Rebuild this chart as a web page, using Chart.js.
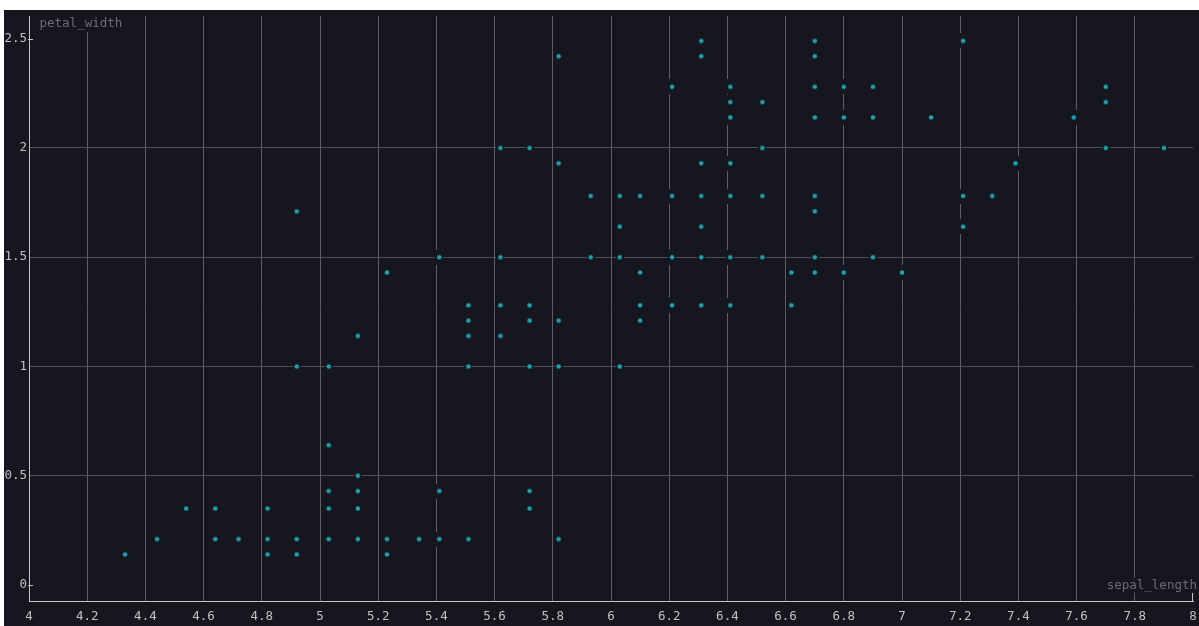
<!DOCTYPE html>
<html>
<head>
<meta charset="utf-8">
<script src="https://cdn.jsdelivr.net/npm/chart.js@4.4.1/dist/chart.umd.min.js"></script>
<style>
  html, body { margin: 0; padding: 0; background: #ffffff; }
  #panel { position: absolute; left: 4px; top: 10px; width: 1195px; height: 616px; background: #15161e; }
  canvas { display: block; }
</style>
</head>
<body>
<div id="panel"><canvas id="plot" width="1195" height="616"></canvas></div>
<script>
// Iris measurements: sepal length (x) against petal width (y), one entry per distinct pair.
const sepalLength = [
  4.33,
  4.44,
  4.54,
  4.64, 4.64,
  4.72,
  4.82, 4.82, 4.82,
  4.92, 4.92, 4.92, 4.92,
  5.03, 5.03, 5.03, 5.03, 5.03,
  5.13, 5.13, 5.13, 5.13, 5.13,
  5.23, 5.23, 5.23,
  5.34,
  5.41, 5.41, 5.41,
  5.51, 5.51, 5.51, 5.51, 5.51,
  5.62, 5.62, 5.62, 5.62,
  5.72, 5.72, 5.72, 5.72, 5.72, 5.72,
  5.82, 5.82, 5.82, 5.82, 5.82,
  5.93, 5.93,
  6.03, 6.03, 6.03, 6.03,
  6.10, 6.10, 6.10, 6.10,
  6.21, 6.21, 6.21, 6.21,
  6.31, 6.31, 6.31, 6.31, 6.31, 6.31, 6.31,
  6.41, 6.41, 6.41, 6.41, 6.41, 6.41, 6.41,
  6.52, 6.52, 6.52, 6.52,
  6.62, 6.62,
  6.70, 6.70, 6.70, 6.70, 6.70, 6.70, 6.70, 6.70,
  6.80, 6.80, 6.80,
  6.90, 6.90, 6.90,
  7.00,
  7.10,
  7.21, 7.21, 7.21,
  7.31,
  7.39,
  7.59,
  7.70, 7.70, 7.70,
  7.90
];
const petalWidth = [
  0.14,
  0.21,
  0.35,
  0.21, 0.35,
  0.21,
  0.14, 0.21, 0.35,
  0.14, 0.21, 1.00, 1.71,
  0.21, 0.35, 0.43, 0.64, 1.00,
  0.21, 0.35, 0.43, 0.50, 1.14,
  0.14, 0.21, 1.43,
  0.21,
  0.21, 0.43, 1.50,
  0.21, 1.00, 1.14, 1.21, 1.28,
  1.14, 1.28, 1.50, 2.00,
  0.35, 0.43, 1.00, 1.21, 1.28, 2.00,
  0.21, 1.00, 1.21, 1.93, 2.42,
  1.50, 1.78,
  1.00, 1.50, 1.64, 1.78,
  1.21, 1.28, 1.43, 1.78,
  1.28, 1.50, 1.78, 2.28,
  1.28, 1.50, 1.64, 1.78, 1.93, 2.42, 2.49,
  1.28, 1.50, 1.78, 1.93, 2.14, 2.21, 2.28,
  1.50, 1.78, 2.00, 2.21,
  1.28, 1.43,
  1.43, 1.50, 1.71, 1.78, 2.14, 2.28, 2.42, 2.49,
  1.43, 2.14, 2.28,
  1.50, 2.14, 2.28,
  1.43,
  2.14,
  1.64, 1.78, 2.49,
  1.78,
  1.93,
  2.14,
  2.00, 2.21, 2.28,
  2.00
];
const xTickValues = [4, 4.2, 4.4, 4.6, 4.8, 5, 5.2, 5.4, 5.6, 5.8, 6, 6.2, 6.4, 6.6, 6.8, 7, 7.2, 7.4, 7.6, 7.8, 8];
const yTickValues = [0, 0.5, 1, 1.5, 2, 2.5];
const xTitle = 'sepal_length';
const yTitle = 'petal_width';

const BG = '#15161e';
const DOT = '#1fa2b4';
const GRID_X = '#5e5d66';
const GRID_Y = '#4f4e58';
const AXIS = '#c4c4c4';
const LABEL = '#c0c0c0';
const TITLE = '#6c6b74';
const FONT = 'DejaVu Sans Mono';

// Marker: a small dot sitting in a background-coloured cell, so grid lines break around it.
function makeMarker() {
  const m = document.createElement('canvas');
  m.width = 8; m.height = 15;
  const g = m.getContext('2d');
  g.fillStyle = BG;
  g.fillRect(0, 0, 8, 15);
  g.fillStyle = DOT;
  g.beginPath();
  g.arc(4, 7.5, 2.3, 0, Math.PI * 2);
  g.fill();
  return m;
}

const fmt = v => String(Math.round(v * 10) / 10);
const first = a => a[0];
const last = a => a[a.length - 1];

// Fixed axis boxes: no extra room reserved for labels overhanging the plot edges.
function fixBox(size) {
  return s => {
    if (s.isHorizontal()) s.height = size; else s.width = size;
    s.paddingTop = s.paddingBottom = s.paddingLeft = s.paddingRight = 0;
  };
}

// Short inner tick marks on the end ticks that carry no grid line.
const edgeTicks = {
  id: 'edgeTicks',
  afterDraw(chart) {
    const { ctx, chartArea: a, scales } = chart;
    ctx.save();
    ctx.strokeStyle = AXIS;
    ctx.lineWidth = 1;
    ctx.beginPath();
    [first(yTickValues), last(yTickValues)].forEach(v => {
      const py = Math.round(scales.y.getPixelForValue(v)) + 0.5;
      ctx.moveTo(a.left - 1, py);
      ctx.lineTo(a.left + 4, py);
    });
    const px = Math.round(scales.x.getPixelForValue(last(xTickValues))) - 0.5;
    ctx.moveTo(px, a.bottom);
    ctx.lineTo(px, a.bottom - 8);
    ctx.stroke();
    ctx.restore();
  }
};

// Axis names are drawn inside the plot area, each on its own background strip.
const axisNames = {
  id: 'axisNames',
  afterDraw(chart) {
    const { ctx, chartArea: a } = chart;
    const zeroY = chart.scales.y.getPixelForValue(0);
    ctx.save();
    ctx.font = `12.5px "${FONT}"`;
    ctx.textBaseline = 'middle';

    const yw = ctx.measureText(yTitle).width;
    ctx.fillStyle = BG;
    ctx.fillRect(a.left + 9, a.top, yw + 3, 16);
    ctx.fillStyle = TITLE;
    ctx.textAlign = 'left';
    ctx.fillText(yTitle, a.left + 10.5, a.top + 8);

    const xw = ctx.measureText(xTitle).width;
    ctx.fillStyle = BG;
    ctx.fillRect(a.right + 4 - xw - 2, zeroY - 7.5, xw + 2, 15);
    ctx.fillStyle = TITLE;
    ctx.textAlign = 'right';
    ctx.fillText(xTitle, a.right + 4, zeroY + 1);
    ctx.restore();
  }
};

const points = sepalLength.map((x, i) => ({ x, y: petalWidth[i] }));

new Chart(document.getElementById('plot'), {
  type: 'scatter',
  data: {
    datasets: [{
      label: yTitle,
      data: points,
      pointStyle: makeMarker(),
      pointRadius: 4,
      pointHoverRadius: 4
    }]
  },
  options: {
    responsive: false,
    animation: false,
    events: [],
    layout: { padding: { top: 6, right: 6, left: 0, bottom: 0 } },
    plugins: {
      legend: { display: false },
      tooltip: { enabled: false }
    },
    scales: {
      x: {
        type: 'linear',
        min: first(xTickValues),
        max: last(xTickValues),
        afterBuildTicks: s => { s.ticks = xTickValues.map(value => ({ value })); },
        afterFit: fixBox(25),
        grid: {
          drawTicks: false,
          lineWidth: 1,
          color: c => (c.tick && (c.tick.value === first(xTickValues) || c.tick.value === last(xTickValues))) ? 'rgba(0,0,0,0)' : GRID_X
        },
        border: { color: AXIS, width: 1 },
        ticks: {
          color: LABEL,
          font: { family: FONT, size: 12.5 },
          padding: 8,
          maxRotation: 0,
          autoSkip: false,
          callback: v => fmt(v)
        }
      },
      y: {
        type: 'linear',
        min: -0.0732,
        max: 2.604,
        afterBuildTicks: s => { s.ticks = yTickValues.map(value => ({ value })); },
        afterFit: fixBox(25),
        grid: {
          drawTicks: false,
          lineWidth: 1,
          color: c => (c.tick && (c.tick.value === first(yTickValues) || c.tick.value === last(yTickValues))) ? 'rgba(0,0,0,0)' : GRID_Y
        },
        border: { color: AXIS, width: 1 },
        ticks: {
          color: LABEL,
          font: { family: FONT, size: 12.5 },
          padding: 2,
          autoSkip: false,
          callback: v => fmt(v)
        }
      }
    }
  },
  plugins: [edgeTicks, axisNames]
});
</script>
</body>
</html>
